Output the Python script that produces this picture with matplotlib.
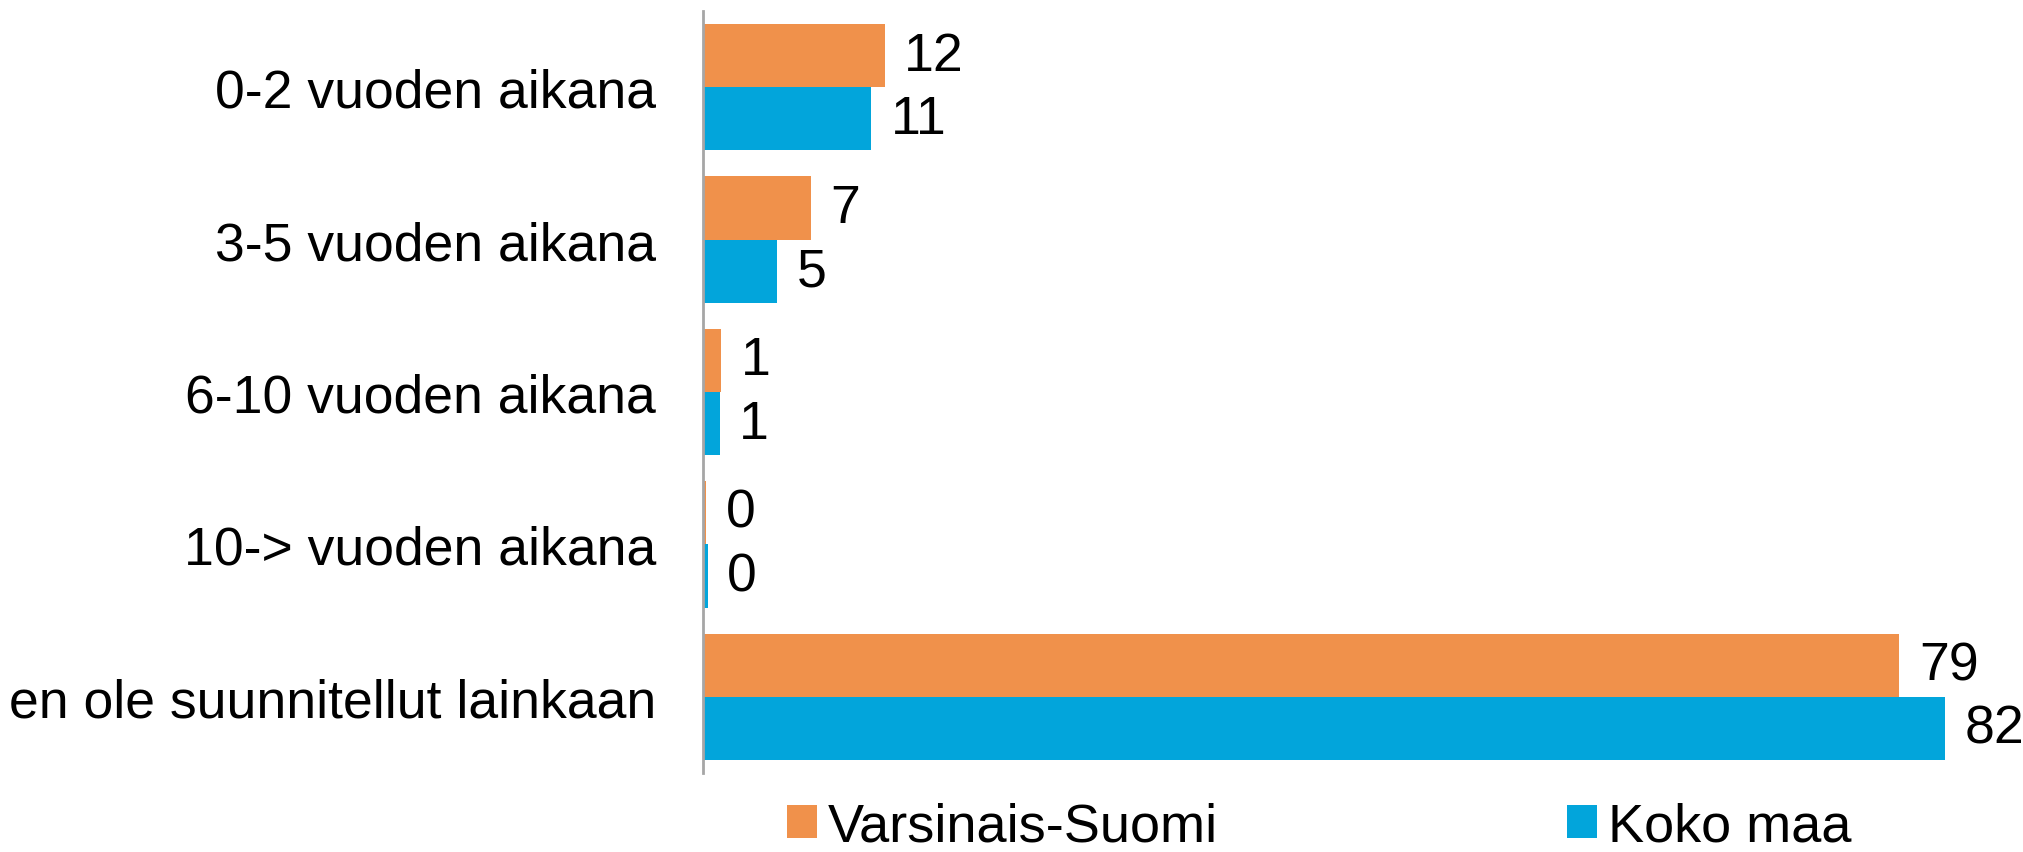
import matplotlib.pyplot as plt
import numpy as np

plt.rcParams['font.family'] = ['Liberation Sans', 'DejaVu Sans']

categories = ['0-2 vuoden aikana', '3-5 vuoden aikana', '6-10 vuoden aikana',
              '10-> vuoden aikana', 'en ole suunnitellut lainkaan']
varsinais_suomi = [12.0, 7.1, 1.2, 0.2, 79.0]
koko_maa = [11.1, 4.9, 1.1, 0.3, 82.0]
series_names = ['Varsinais-Suomi', 'Koko maa']
colors = ['#F0914B', '#02A5DB']

fig = plt.figure(figsize=(20.24, 8.53), dpi=100)
ax = fig.add_axes([703 / 2024, 1 - 774 / 853, 1307 / 2024, 762 / 853])

y = np.arange(len(categories))
h = 0.415
b1 = ax.barh(y - h / 2, varsinais_suomi, height=h, color=colors[0], label=series_names[0])
b2 = ax.barh(y + h / 2, koko_maa, height=h, color=colors[1], label=series_names[1])

for bars in (b1, b2):
    ax.bar_label(bars, labels=['%d' % round(v) for v in bars.datavalues],
                 padding=14, fontsize=38.5, color='black')

ax.set_ylim(len(categories) - 0.5, -0.5)
ax.set_xlim(0, 86.3)
ax.set_yticks(y)
ax.set_yticklabels(categories, fontsize=38.5)
ax.tick_params(axis='y', length=0, pad=34)
ax.set_xticks([])
for s in ['top', 'right', 'bottom']:
    ax.spines[s].set_visible(False)
ax.spines['left'].set_color('#A6A6A6')
ax.spines['left'].set_linewidth(2)

fig.legend(handles=[b1, b2], loc='center left', bbox_to_anchor=(787 / 2024, 0.03),
           ncol=2, frameon=False, fontsize=39, handlelength=0.55, handleheight=0.55,
           handletextpad=0.2, columnspacing=6.45, borderpad=0, borderaxespad=0)

fig.savefig('out.png', dpi=100)
